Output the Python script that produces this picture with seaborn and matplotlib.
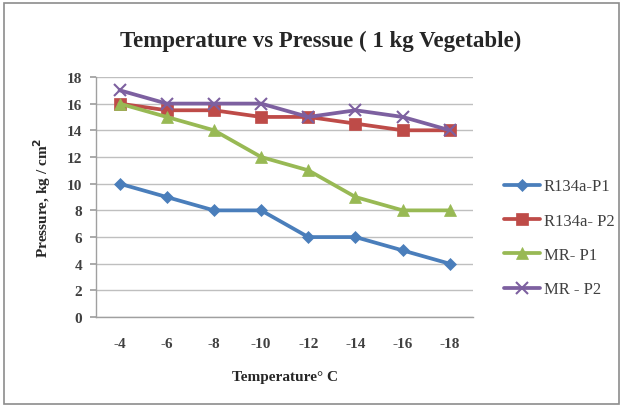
import matplotlib
matplotlib.use("Agg")
import matplotlib.pyplot as plt
import seaborn as sns
import pandas as pd
from matplotlib.patches import Rectangle

temps = ["-4", "-6", "-8", "-10", "-12", "-14", "-16", "-18"]
r134a_p1 = [10, 9, 8, 8, 6, 6, 5, 4]
r134a_p2 = [16, 15.5, 15.5, 15, 15, 14.5, 14, 14]
mr_p1 = [16, 15, 14, 12, 11, 9, 8, 8]
mr_p2 = [17, 16, 16, 16, 15, 15.5, 15, 14]
series_names = ["R134a-P1", "R134a- P2", "MR- P1", "MR - P2"]

sns.set_theme(style="white")
plt.rcParams['font.family'] = ['Liberation Serif', 'DejaVu Serif']

rows = []
for name, vals in zip(series_names, [r134a_p1, r134a_p2, mr_p1, mr_p2]):
    for t, v in zip(temps, vals):
        rows.append({"Temperature": t, "Pressure": v, "Series": name})
df = pd.DataFrame(rows)
df["pos"] = df["Temperature"].map({t: i for i, t in enumerate(temps)})

colors = ["#4A7EBB", "#BE4B48", "#98B954", "#7D60A0"]
markers = ["D", "s", "^", "x"]
msizes = [6, 9, 8, 8]

fig = plt.figure(figsize=(6.23, 4.10), dpi=100)
ax = fig.add_axes([0.154, 0.224, 0.606, 0.586])

for name, c, m, ms in zip(series_names, colors, markers, msizes):
    sub = df[df["Series"] == name]
    sns.lineplot(data=sub, x="pos", y="Pressure", ax=ax, color=c, marker=m,
                 markersize=ms, linewidth=2.7, label=name,
                 markeredgecolor=c, markeredgewidth=1.5 if m == "x" else 0.5)

ax.set_xlim(-0.5, 7.5)
ax.set_ylim(0, 18)
ax.set_yticks(range(0, 19, 2))
ax.set_xticks(range(len(temps)))
ax.set_xticklabels(temps)
ax.yaxis.grid(True, color="#BFBFBF", linewidth=1)
ax.xaxis.grid(False)
for s in ["top", "right"]:
    ax.spines[s].set_visible(False)
for s in ["left", "bottom"]:
    ax.spines[s].set_color("#A0A0A0")
    ax.spines[s].set_linewidth(1)
ax.tick_params(axis="y", labelsize=11, length=4, color="#A0A0A0", left=True, pad=6)
ax.tick_params(axis="x", labelsize=11, length=0, pad=14)
for lbl in ax.get_xticklabels() + ax.get_yticklabels():
    lbl.set_fontweight("bold")
    lbl.set_color("#404040")

ax.set_xlabel("Temperature° C", fontsize=11, fontweight="bold", labelpad=15)
ax.set_ylabel("Pressure, kg / cm$^{\\mathbf{2}}$", fontsize=11, fontweight="bold", labelpad=10)
fig.suptitle("Temperature vs Pressue ( 1 kg Vegetable)", fontsize=16.5,
             fontweight="bold", x=0.515, y=0.925)

leg = ax.legend(loc="center left", bbox_to_anchor=(1.04, 0.33), frameon=False,
                fontsize=12, labelspacing=1.1, handlelength=2.2, handletextpad=0.2)
for t in leg.get_texts():
    t.set_color("#404040")

fig.patches.append(Rectangle((0.006, 0.012), 0.988, 0.978, transform=fig.transFigure,
                             fill=False, edgecolor="#8C8C8C", linewidth=1.2))

fig.savefig("out.png", dpi=100)
